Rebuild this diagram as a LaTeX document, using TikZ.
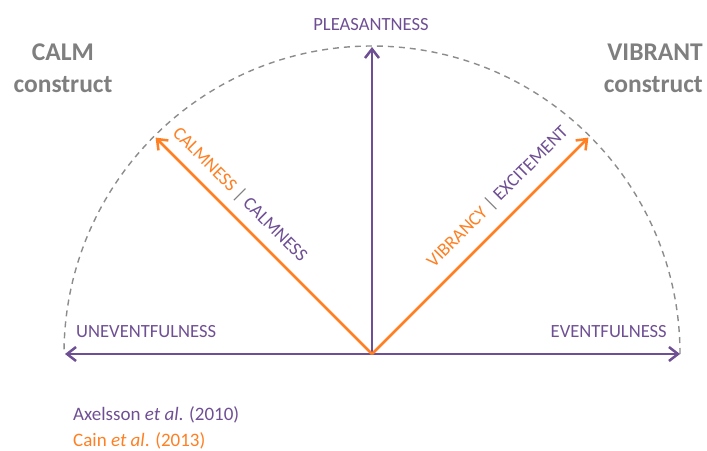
\documentclass[tikz,border=0pt]{standalone}
\usepackage{fontspec}
\setmainfont{Carlito}
\usetikzlibrary{arrows.meta}
\definecolor{axpurple}{HTML}{6F4F94}
\definecolor{cainorange}{HTML}{FF7F22}
\definecolor{constgray}{HTML}{7F7F7F}
\definecolor{arcgray}{HTML}{8C8C8C}
\begin{document}
\begin{tikzpicture}[x=1pt,y=1pt,
  lbl/.style={font=\fontsize{18.6}{22}\selectfont, inner sep=0pt},
  axislbl/.style={lbl, text=axpurple},
  leglbl/.style={font=\fontsize{19}{22}\selectfont, inner sep=0pt, anchor=base west},
  constructlbl/.style={font=\fontsize{25.5}{30}\selectfont\bfseries, text=constgray, inner sep=0pt},
  purplearrow/.style={draw=axpurple, line width=2.5pt, -{Straight Barb[length=9pt,width=14pt]}},
  orangearrow/.style={draw=cainorange, line width=2.5pt, -{Straight Barb[length=9pt,width=14pt]}},
  arcline/.style={draw=arcgray, line width=1.4pt, dash pattern=on 6pt off 5pt}]
\useasboundingbox (0,0) rectangle (707,-450);
\coordinate (c) at (372,-354);
\coordinate (tipup) at (372,-47);
\coordinate (tipleft) at (65,-354);
\coordinate (tipright) at (680,-354);
\coordinate (tipcalm) at (155.6,-137.6);
\coordinate (tipvib) at (588.4,-137.6);
\coordinate (arcstart) at (680,-354);
% dashed half circle
\draw[arcline] (arcstart) arc[start angle=0, end angle=180, radius=308];
% axes
\draw[purplearrow] (c) -- (tipup);
\draw[purplearrow] (c) -- (tipleft);
\draw[purplearrow] (c) -- (tipright);
\draw[orangearrow] (c) -- (tipcalm);
\draw[orangearrow] (c) -- (tipvib);
% axis labels
\node[axislbl, anchor=base] (pleas) at (371,-30) {PLEASANTNESS};
\node[axislbl, anchor=base west] (unev) at (76,-337) {UNEVENTFULNESS};
\node[axislbl, anchor=base east] (ev) at (667,-337) {EVENTFULNESS};
\node[lbl, rotate=-45] (calmlbl) at (239.7,-194.9) {\textcolor{cainorange}{CALMNESS} \textcolor{constgray}{|} \textcolor{axpurple}{CALMNESS}};
\node[lbl, rotate=45] (viblbl) at (497.8,-197) {\textcolor{cainorange}{VIBRANCY} \textcolor{constgray}{|} \textcolor{axpurple}{EXCITEMENT}};
% constructs
\node[constructlbl, anchor=base] (calmtitle) at (63,-60) {CALM};
\node[constructlbl, anchor=base] (calmsub) at (63,-92) {construct};
\node[constructlbl, anchor=base east] (vibtitle) at (703,-60) {VIBRANT};
\node[constructlbl, anchor=base east] (vibsub) at (703,-92) {construct};
% legend
\node[leglbl, text=axpurple] (legax) at (73,-420) {Axelsson \textit{et al}. (2010)};
\node[leglbl, text=cainorange] (legcain) at (73,-446.5) {Cain \textit{et al}. (2013)};
\end{tikzpicture}
\end{document}
